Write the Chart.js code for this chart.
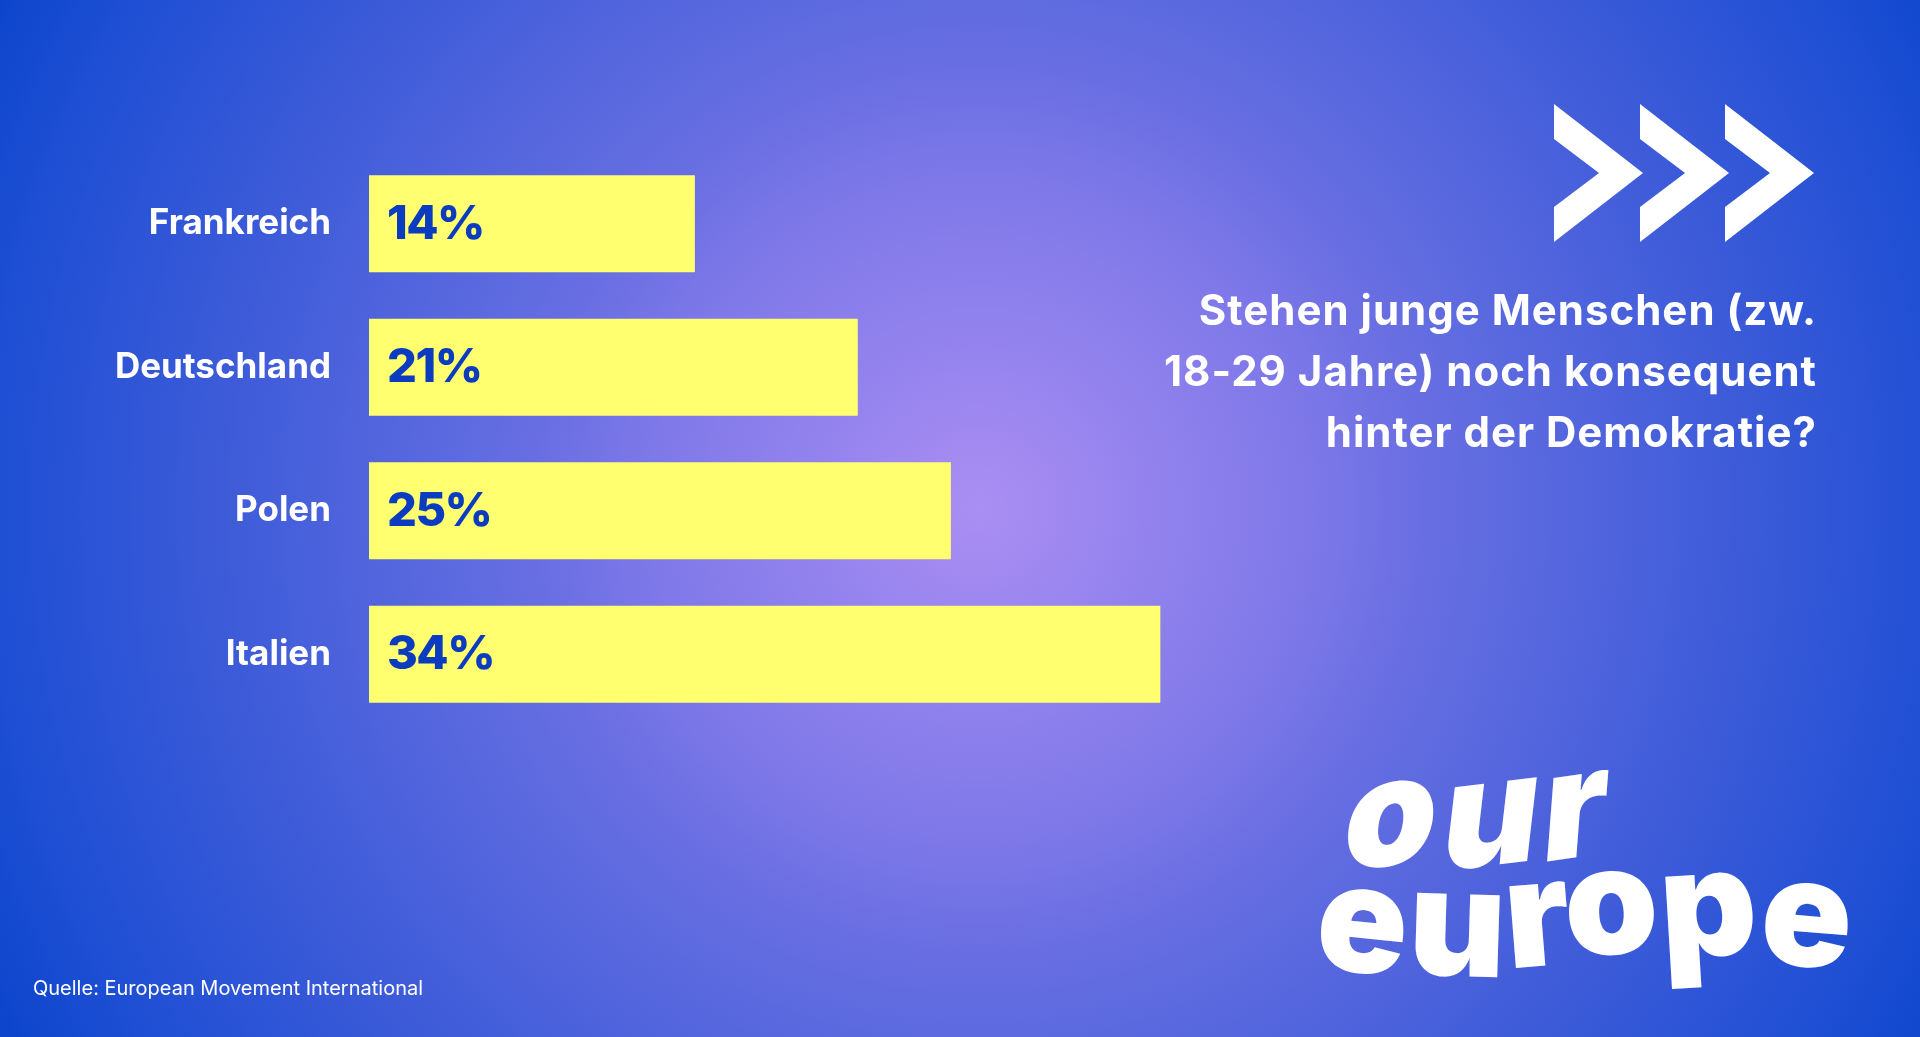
<!DOCTYPE html>
<html lang="de">
<head>
<meta charset="utf-8">
<title>Stehen junge Menschen noch konsequent hinter der Demokratie?</title>
<script src="https://cdn.jsdelivr.net/npm/chart.js@4.4.1/dist/chart.umd.min.js"></script>
<style>
  html, body { margin: 0; padding: 0; }
  body {
    width: 1920px; height: 1037px; overflow: hidden;
    background: radial-gradient(circle farthest-corner at 51% 49%,
      #aa8ef3 0%, #7c77e8 31%, #6a6fe2 39%, #5f6be0 46%, #3f5cd9 67%, #1f4fd4 88%, #0b45cc 100%);
  }
  canvas { display: block; }
</style>
</head>
<body>
<canvas id="barChart" width="1920" height="1037"></canvas>
<script>
// chart data
const categories = ['Frankreich', 'Deutschland', 'Polen', 'Italien'];
const values = [14, 21, 25, 34];
const valueLabels = ['14%', '21%', '25%', '34%'];
const titleLines = ['Stehen junge Menschen (zw.', '18-29 Jahre) noch konsequent', 'hinter der Demokratie?'];
const sourceText = 'Quelle: European Movement International';

const barYellow = '#ffff70';
const darkBlue = '#0b3cc0';

// percent labels inside the bars
const valueLabelPlugin = {
  id: 'valueLabels',
  afterDatasetsDraw(chart) {
    const ctx = chart.ctx;
    const meta = chart.getDatasetMeta(0);
    ctx.save();
    ctx.font = '800 47px Inter';
    ctx.letterSpacing = '-1.5px';
    ctx.fillStyle = darkBlue;
    ctx.textBaseline = 'middle';
    ctx.textAlign = 'left';
    meta.data.forEach((bar, i) => {
      ctx.fillText(valueLabels[i], bar.base + 18, bar.y + 1);
    });
    ctx.restore();
  }
};

// title, arrows, source line and logo
const decorPlugin = {
  id: 'decor',
  afterDraw(chart) {
    const ctx = chart.ctx;
    ctx.save();
    ctx.fillStyle = '#ffffff';

    // >>> arrows
    [1554, 1640, 1725].forEach(x => {
      ctx.beginPath();
      ctx.moveTo(x, 104);
      ctx.lineTo(x + 89, 173);
      ctx.lineTo(x, 242);
      ctx.lineTo(x, 207);
      ctx.lineTo(x + 45, 173);
      ctx.lineTo(x, 139);
      ctx.closePath();
      ctx.fill();
    });

    // question
    ctx.font = '700 42px Inter';
    ctx.letterSpacing = '1px';
    ctx.textAlign = 'right';
    ctx.textBaseline = 'alphabetic';
    titleLines.forEach((line, i) => {
      ctx.fillText(line, 1817, 325 + i * 61);
    });
    ctx.letterSpacing = '0px';

    // source
    ctx.font = '400 20px Inter';
    ctx.textAlign = 'left';
    ctx.fillText(sourceText, 33, 995);

    // logo "our europe", letter by letter
    ctx.font = '900 150px Inter';
    ctx.textAlign = 'center';
    const letters = [
      ['o', 1385, 866, -0.12, -0.26],
      ['u', 1486, 866, -0.12, -0.24],
      ['r', 1572, 858, -0.14, -0.22],
      ['e', 1358, 972, 0.10, 0],
      ['u', 1456, 976, 0.03, 0],
      ['r', 1541, 966, -0.08, 0],
      ['o', 1613, 954, -0.04, 0],
      ['p', 1711, 956, -0.06, 0],
      ['e', 1803, 966, 0.08, 0]
    ];
    letters.forEach(([ch, x, y, rot, skew]) => {
      ctx.save();
      ctx.translate(x, y);
      ctx.rotate(rot);
      ctx.transform(1, 0, skew, 1, 0, 0);
      ctx.fillText(ch, 0, 0);
      ctx.restore();
    });
    ctx.restore();
  }
};

const ctx = document.getElementById('barChart').getContext('2d');
new Chart(ctx, {
  type: 'bar',
  data: {
    labels: categories,
    datasets: [{
      data: values,
      backgroundColor: barYellow,
      borderWidth: 0,
      categoryPercentage: 1,
      barPercentage: 0.676
    }]
  },
  options: {
    indexAxis: 'y',
    responsive: false,
    animation: false,
    layout: { padding: { left: 0, right: 620, top: 152, bottom: 311 } },
    scales: {
      x: {
        display: false,
        min: 0,
        max: 40
      },
      y: {
        grid: { display: false, drawTicks: false },
        border: { display: false },
        ticks: {
          color: '#ffffff',
          font: { family: 'Inter', size: 35, weight: '700' },
          padding: 38
        },
        afterFit(scale) { scale.width = 369; }
      }
    },
    plugins: {
      legend: { display: false },
      tooltip: { enabled: false }
    }
  },
  plugins: [valueLabelPlugin, decorPlugin]
});
</script>
</body>
</html>
